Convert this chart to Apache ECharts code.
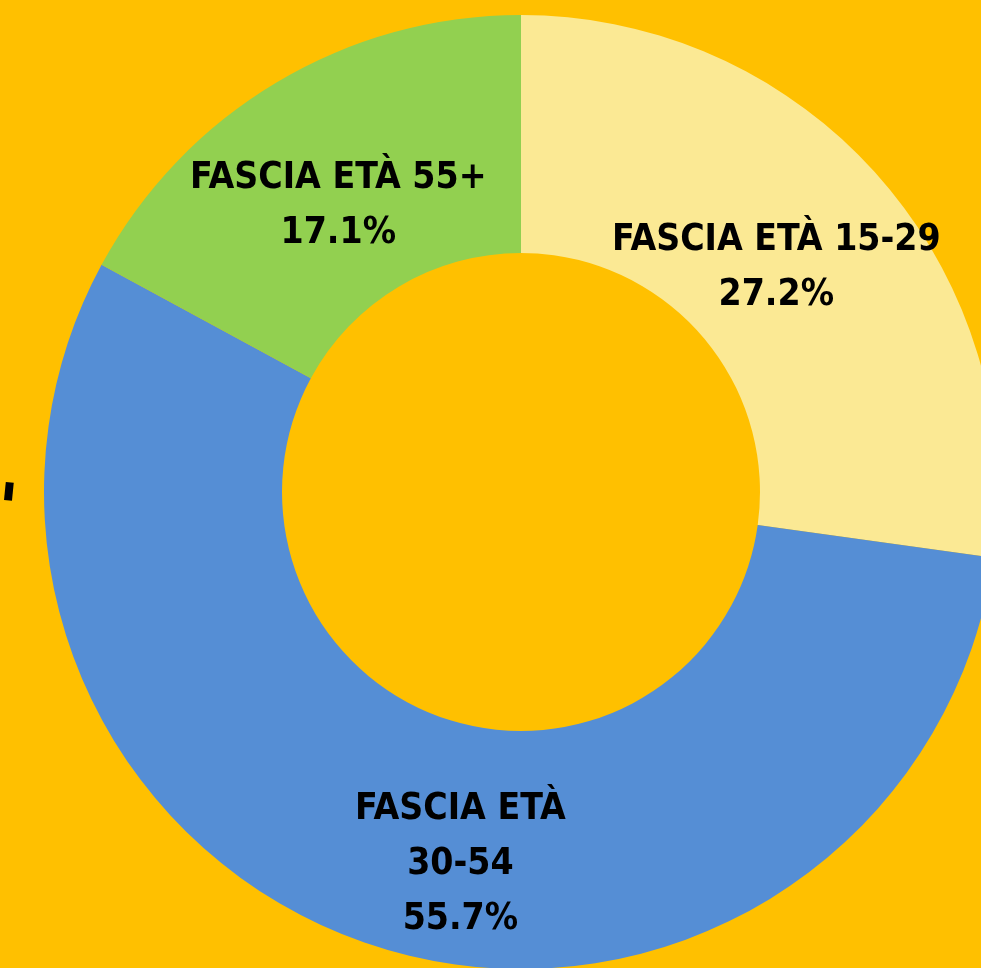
<!DOCTYPE html>
<html>
<head>
<meta charset="utf-8">
<title>Fasce di età</title>
<script src="https://cdn.jsdelivr.net/npm/echarts@6/dist/echarts.min.js"></script>
<style>
  html, body { margin: 0; padding: 0; background: #FFC000; }
  #chart { width: 981px; height: 968px; }
</style>
</head>
<body>
<div id="chart"></div>
<script>
// categories + values (percent)
var categories = ['FASCIA ETÀ 15-29', 'FASCIA ETÀ\n30-54', 'FASCIA ETÀ 55+']
var values = [27.2, 55.7, 17.1]
var colors = ['#FBE994', '#558ED5', '#92D050']

var chart = echarts.init(document.getElementById('chart'))

// small nudges so labels sit like in the original
var labelShift = [[-17, 13], [52, 29], [2, 24]]

chart.setOption({
  backgroundColor: '#FFC000',
  animation: false,
  graphic: [{
    type: 'rect',
    left: 4,
    top: 482,
    rotation: -0.1,
    shape: { width: 8, height: 18 },
    style: { fill: '#000' }
  }],
  series: [{
    type: 'pie',
    center: [521, 492],
    radius: [239, 477],
    startAngle: 90,
    clockwise: true,
    avoidLabelOverlap: false,
    label: {
      show: true,
      position: 'inside',
      formatter: function (p) {
        return p.name + '\n' + p.value.toFixed(1) + '%'
      },
      color: '#000',
      fontFamily: "'Liberation Sans Narrow', 'DejaVu Sans Condensed', sans-serif",
      fontWeight: 'bold',
      fontSize: 37,
      lineHeight: 55,
      align: 'center'
    },
    labelLine: { show: false },
    labelLayout: function (params) {
      var s = labelShift[params.dataIndex]
      return { dx: s[0], dy: s[1] }
    },
    itemStyle: { borderWidth: 0 },
    emphasis: { disabled: true },
    data: categories.map(function (c, i) {
      return { name: c, value: values[i], itemStyle: { color: colors[i] } }
    })
  }]
})
</script>
</body>
</html>
